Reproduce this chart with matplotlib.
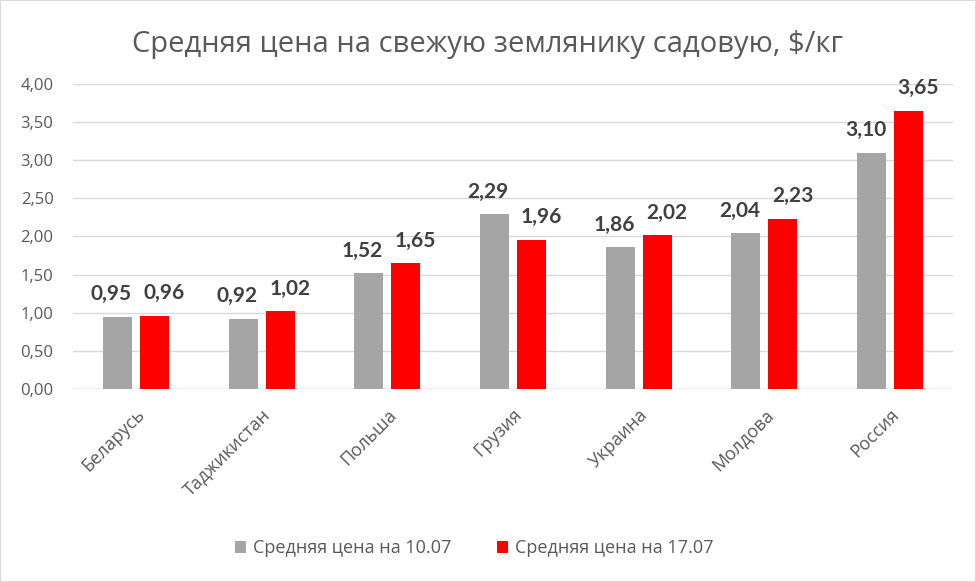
import numpy as np
import matplotlib.pyplot as plt

countries = ['Беларусь', 'Таджикистан', 'Польша', 'Грузия', 'Украина', 'Молдова', 'Россия']
price_1007 = [0.95, 0.92, 1.52, 2.29, 1.86, 2.04, 3.10]
price_1707 = [0.96, 1.02, 1.65, 1.96, 2.02, 2.23, 3.65]
series_names = ['Средняя цена на 10.07', 'Средняя цена на 17.07']

plt.rcParams['font.family'] = ['Open Sans', 'DejaVu Sans']

fig = plt.figure(figsize=(9.76, 5.82), dpi=100)
ax = fig.add_axes([0.0748, 0.3316, 0.9016, 0.5241])

x = np.arange(len(countries))
w = 0.23
gap = 0.064
b1 = ax.bar(x - (w + gap) / 2, price_1007, w, color='#a5a5a5', label=series_names[0], zorder=3)
b2 = ax.bar(x + (w + gap) / 2, price_1707, w, color='#ff0000', label=series_names[1], zorder=3)

# value labels pushed apart a little, like in the original
for bars, dx in ((b1, -4.5), (b2, 7)):
    for r in bars:
        v = r.get_height()
        ax.annotate(f'{v:.2f}'.replace('.', ','), (r.get_x() + r.get_width() / 2, v),
                    xytext=(dx, 9), textcoords='offset points',
                    ha='center', va='bottom', fontsize=15, fontweight='bold', color='#404040',
                    family=['Lato', 'DejaVu Sans'])

ax.set_xlim(-0.5, len(countries) - 0.5)
ax.set_ylim(0, 4)
ax.set_yticks(np.arange(0, 4.01, 0.5))
ax.set_yticklabels([f'{v:.2f}'.replace('.', ',') for v in np.arange(0, 4.01, 0.5)])
ax.set_xticks(x)
ax.set_xticklabels(countries, rotation=45, ha='right', rotation_mode='anchor')
ax.tick_params(axis='y', length=0, labelsize=12, colors='#595959', pad=14)
ax.tick_params(axis='x', length=0, labelsize=13, colors='#595959', pad=12)
ax.grid(axis='y', color='#d9d9d9', linewidth=1, zorder=0)
for s in ax.spines.values():
    s.set_visible(False)
ax.axhline(0, color='#d9d9d9', linewidth=1, zorder=2)

fig.text(0.5, 0.923, 'Средняя цена на свежую землянику садовую, $/кг', ha='center', va='center',
         fontsize=21, color='#595959')

fig.legend(loc='center', bbox_to_anchor=(0.486, 0.058), ncol=2, frameon=False, fontsize=13,
           labelcolor='#595959', handlelength=0.6, handleheight=0.6, columnspacing=2.5, handletextpad=0.4)

fig.patches.append(plt.Rectangle((0, 0), 1, 1, transform=fig.transFigure, fill=False,
                                 edgecolor='#d9d9d9', linewidth=1.5))

fig.savefig('out.png', dpi=100)
